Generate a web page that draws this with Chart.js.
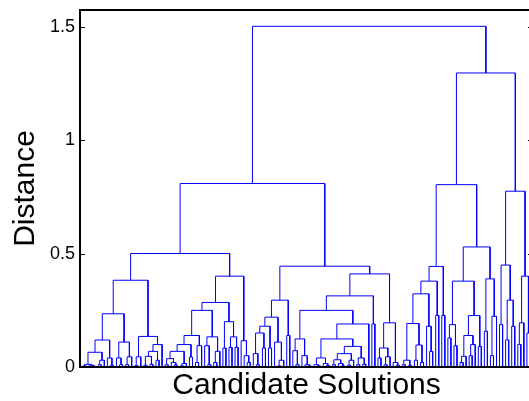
<!DOCTYPE html>
<html>
<head>
<meta charset="utf-8">
<script src="https://cdn.jsdelivr.net/npm/chart.js@4"></script>
<style>
html, body { margin: 0; padding: 0; overflow: hidden; background: #fff; }
</style>
</head>
<body>
<canvas id="dendro" width="533" height="401"></canvas>
<script>
// Merge trees: [height, left, right], 0 = a leaf
const clusterA1a = [0.383,
    [0.235,
        [0.119,
            [0.065, [0.012, [0.005, 0, 0], [0.008, 0, [0.004, 0, 0]]], [0.03, [0.01, 0, 0], 0]],
            [0.04, 0, [0.008, 0, 0]]],
        [0.11, [0.04, 0, [0.01, 0, 0]], [0.045, [0.01, 0, 0], 0]]],
    [0.135,
        [0.045, [0.006, 0, 0], 0],
        [0.099, [0.069, [0.047, [0.008, 0, 0], [0.012, 0, 0]], [0.03, 0, 0]], 0]]];

const clusterA1b = [0.401,
    [0.285,
        [0.25,
            [0.139,
                [0.099,
                    [0.069, [0.037, [0.01, 0, 0], [0.02, 0, [0.009, 0, 0]]], [0.015, [0.005, 0, 0], 0]],
                    [0.044, 0, 0]],
                [0.094, [0.02, 0, 0], 0]],
            [0.133, [0.094, 0, [0.01, 0, 0]], [0.069, [0.02, 0, 0], 0]]],
        [0.2, [0.084, 0, 0], [0.133, [0.087, 0, 0], [0.087, 0, 0]]]],
    [0.116, 0, [0.05, 0, [0.02, 0, 0]]]];

const clusterA2 = [0.445,
    [0.295,
        [0.22,
            [0.18, [0.15, [0.059, 0, [0.01, 0, 0]], [0.084, 0, 0]], [0.084, 0, 0]],
            [0.11, 0, [0.03, [0.005, 0, 0], 0]]],
        [0.139, 0, 0]],
    [0.411,
        [0.314,
            [0.25,
                [0.124, [0.072, 0, [0.01, 0, 0]], [0.05, 0, [0.01, 0, [0.005, 0, 0]]]],
                [0.19,
                    [0.124,
                        [0.04, [0.01, 0, [0.005, 0, 0]], [0.015, 0, [0.006, 0, 0]]],
                        [0.091,
                            [0.059, [0.032, [0.01, 0, 0], [0.015, 0, [0.005, 0, 0]]], [0.03, [0.008, 0, 0], 0]],
                            [0.04, [0.01, 0, 0], [0.012, 0, 0]]]],
                    0]],
            [0.19, 0, 0]],
        [0.195,
            [0.084, [0.04, 0, 0], [0.045, [0.01, 0, 0], 0]],
            [0.02, 0, [0.008, 0, 0]]]]];

const clusterB1 = [0.805,
    [0.444,
        [0.379,
            [0.323,
                [0.192, [0.03, [0.01, 0, 0], [0.006, 0, 0]], [0.097, [0.03, 0, 0], [0.02, 0, 0]]],
                [0.18, 0, [0.069, 0, 0]]],
            [0.228, 0, 0]],
        [0.228, 0, 0]],
    [0.53,
        [0.379,
            [0.187, [0.128, 0, 0], [0.094, 0, 0]],
            [0.227, [0.139, [0.047, [0.02, 0, 0], 0], [0.099, [0.05, 0, 0], 0]], [0.091, 0, 0]]],
        [0.389, [0.158, 0, 0], [0.224, [0.05, 0, 0], 0]]]];

const clusterB2 = [0.776,
    [0.45, [0.187, 0, 0], [0.295, [0.12, 0, 0], [0.18, 0, 0]]],
    [0.401, [0.195, [0.1, 0, 0], 0], [0.15, 0, 0]]];

const rootTree = [1.504, [0.81, [0.501, clusterA1a, clusterA1b], clusterA2], [1.298, clusterB1, clusterB2]];

const yTickValues = [0, 0.5, 1, 1.5];
const yMax = 1.576;
const xTitle = 'Candidate Solutions';
const yTitle = 'Distance';
const fontFamily = '"Liberation Sans", Arial, Helvetica, sans-serif';
const lineColor = '#0000ff';

// walk the tree: leaves get positions 1..N, each merge sits midway between its children
let leafCount = 0;
const links = [];
function place(node) {
    if (node === 0) {
        leafCount++;
        return {x: leafCount, h: 0};
    }
    const l = place(node[1]);
    const r = place(node[2]);
    links.push([l, r, node[0]]);
    return {x: (l.x + r.x) / 2, h: node[0]};
}
place(rootTree);

const datasets = links.map(function ([l, r, h]) {
    return {
        data: [{x: l.x, y: l.h}, {x: l.x, y: h}, {x: r.x, y: h}, {x: r.x, y: r.h}],
        showLine: true,
        borderColor: lineColor,
        borderWidth: 1,
        pointRadius: 0,
        tension: 0
    };
});

// black box round the axes with inward ticks on both sides
const axesBox = {
    id: 'axesBox',
    afterDraw(chart) {
        const {ctx, chartArea: a} = chart;
        const y = chart.scales.y;
        ctx.save();
        ctx.strokeStyle = '#000';
        ctx.lineWidth = 2;
        ctx.strokeRect(a.left, a.top, a.right - a.left, a.bottom - a.top);
        ctx.lineWidth = 1;
        ctx.beginPath();
        yTickValues.forEach(function (v) {
            const py = Math.round(y.getPixelForValue(v)) + 0.5;
            ctx.moveTo(a.left, py);
            ctx.lineTo(a.left + 5, py);
            ctx.moveTo(a.right, py);
            ctx.lineTo(a.right - 5, py);
        });
        ctx.stroke();
        ctx.restore();
    }
};

new Chart(document.getElementById('dendro'), {
    type: 'scatter',
    data: {datasets: datasets},
    options: {
        responsive: false,
        animation: false,
        layout: {padding: {top: 10, right: 0, bottom: 0, left: 0}},
        plugins: {
            legend: {display: false},
            tooltip: {enabled: false}
        },
        scales: {
            x: {
                type: 'linear',
                min: 0,
                max: leafCount + 1,
                grid: {display: false, drawTicks: false},
                border: {display: false},
                ticks: {display: false},
                title: {
                    display: true,
                    text: xTitle,
                    color: '#000',
                    font: {family: fontFamily, size: 30, lineHeight: 1},
                    padding: 0
                },
                afterFit: function (scale) { scale.height = 34; }
            },
            y: {
                type: 'linear',
                min: 0,
                max: yMax,
                grid: {display: false, drawTicks: false},
                border: {display: false},
                ticks: {
                    color: '#000',
                    font: {family: fontFamily, size: 18},
                    padding: 5,
                    callback: function (v) { return String(v); }
                },
                afterBuildTicks: function (scale) {
                    scale.ticks = yTickValues.map(function (v) { return {value: v}; });
                },
                title: {
                    display: true,
                    text: yTitle,
                    color: '#000',
                    font: {family: fontFamily, size: 30, lineHeight: 1},
                    padding: {top: 11, bottom: 0}
                },
                afterFit: function (scale) {
                    scale.width = 80;
                    scale.paddingTop = 0;
                    scale.paddingBottom = 0;
                }
            }
        }
    },
    plugins: [axesBox]
});
</script>
</body>
</html>
